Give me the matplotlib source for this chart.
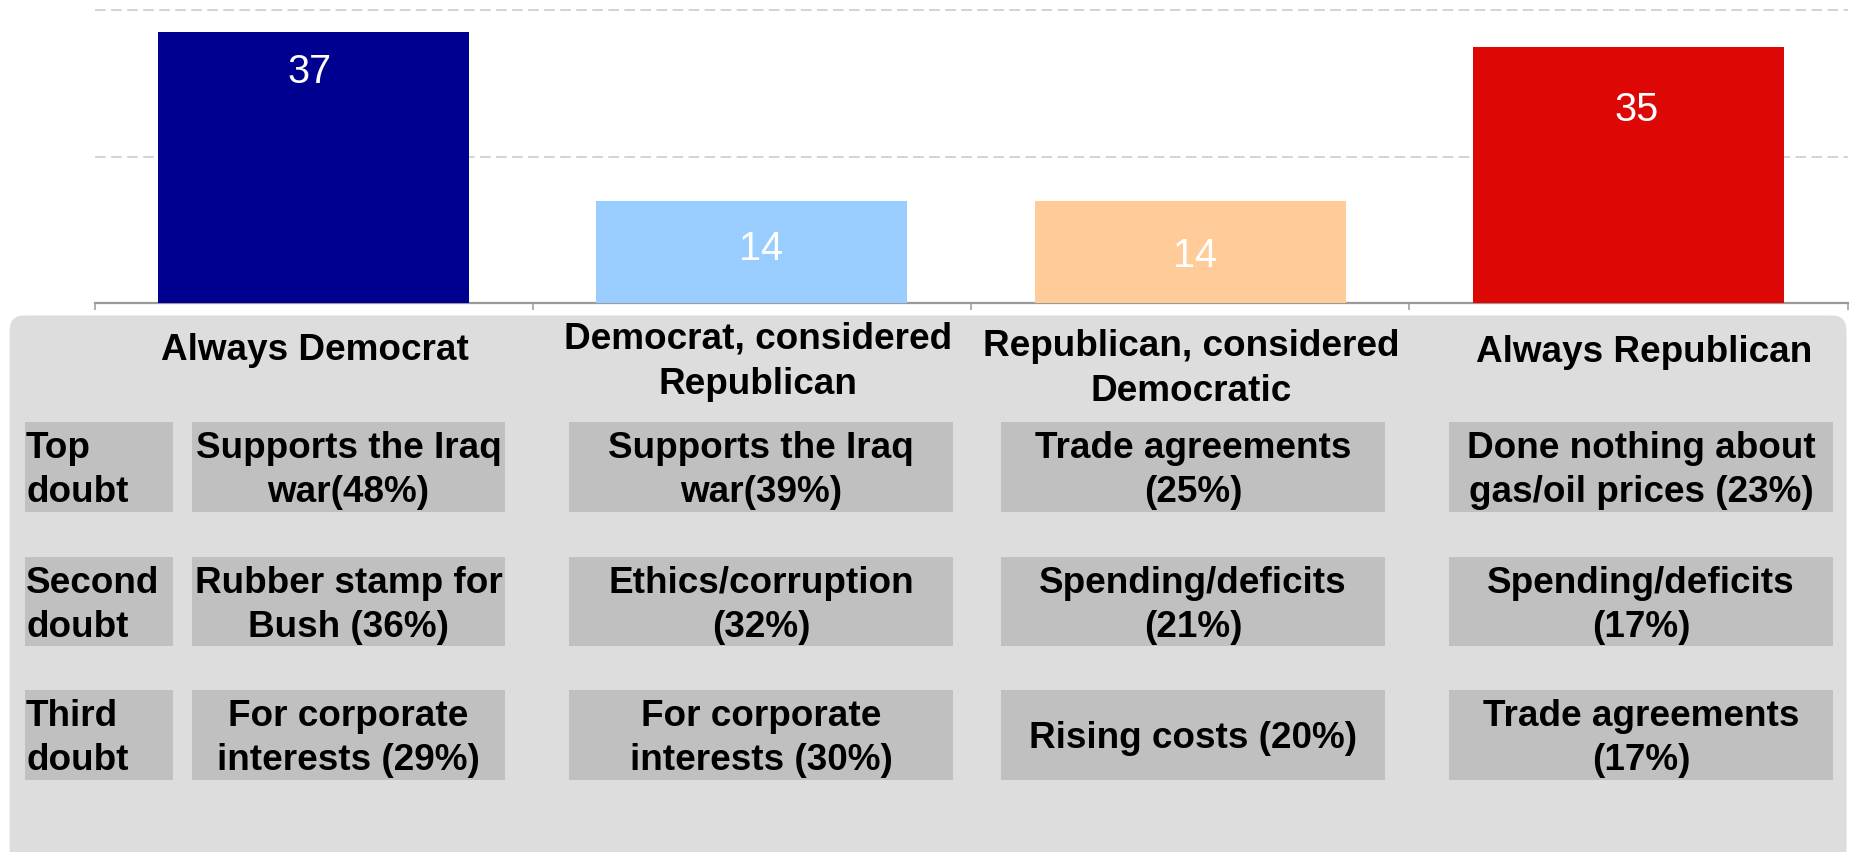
import matplotlib
matplotlib.use("Agg")
import matplotlib.pyplot as plt
from matplotlib.patches import FancyBboxPatch, Rectangle

plt.rcParams['font.family'] = ['Liberation Sans', 'DejaVu Sans']

# ---- data -------------------------------------------------------------
categories = ["Always Democrat",
              "Democrat, considered\nRepublican",
              "Republican, considered\nDemocratic",
              "Always Republican"]
values = [37, 14, 14, 35]

row_labels = ["Top\ndoubt", "Second\ndoubt", "Third\ndoubt"]
top_doubt = ["Supports the Iraq\nwar(48%)",
             "Supports the Iraq\nwar(39%)",
             "Trade agreements\n(25%)",
             "Done nothing about\ngas/oil prices (23%)"]
second_doubt = ["Rubber stamp for\nBush (36%)",
                "Ethics/corruption\n(32%)",
                "Spending/deficits\n(21%)",
                "Spending/deficits\n(17%)"]
third_doubt = ["For corporate\ninterests (29%)",
               "For corporate\ninterests (30%)",
               "Rising costs (20%)",
               "Trade agreements\n(17%)"]

# ---- styling ----------------------------------------------------------
bar_colors = ["#000090", "#99CCFF", "#FFCC99", "#DD0806"]
label_drop = [7.0, 8.1, 9.0, 10.2]        # value label baseline below bar top
label_shift = [-0.01, 0.02, 0.01, 0.018]  # small horizontal nudge of labels
grid_color = "#C8C8C8"
axis_color = "#9A9A9A"
panel_color = "#DDDDDD"
cell_color = "#C0C0C0"
TXT = 26.6

W, H = 1852, 852
fig = plt.figure(figsize=(W / 100, H / 100), dpi=100)

# ---- bar chart --------------------------------------------------------
ax_l, ax_r, ax_base = 94.5, 1847.5, 303.3
ax = fig.add_axes([ax_l / W, 1 - ax_base / H, (ax_r - ax_l) / W, ax_base / H])
x = list(range(len(values)))
ax.bar(x, values, width=0.71, color=bar_colors, zorder=3)
ax.set_xlim(-0.5, len(values) - 0.5)
ax.set_ylim(0, 41.36)

ax.set_yticks([20, 40])
ax.tick_params(axis='y', length=0, labelleft=False)
ax.yaxis.grid(True, color=grid_color, linewidth=1.1, linestyle=(0, (7, 3.5)))
ax.set_axisbelow(True)

ax.set_xticks([i - 0.5 for i in range(len(values) + 1)])
ax.tick_params(axis='x', length=5, width=1.1, color=axis_color,
               direction='out', labelbottom=False)
for s in ('top', 'left', 'right'):
    ax.spines[s].set_visible(False)
ax.spines['bottom'].set_color(axis_color)
ax.spines['bottom'].set_linewidth(1.6)
ax.set_facecolor('none')

for i, (v, d, dx) in enumerate(zip(values, label_drop, label_shift)):
    ax.text(i + dx, v - d, str(v), ha='center', va='baseline',
            color='white', fontsize=28.5, zorder=4)

# ---- doubts panel -----------------------------------------------------
pan = fig.add_axes([0, 0, 1, 1], zorder=-1)
pan.set_xlim(0, W)
pan.set_ylim(H, 0)
pan.axis('off')

r = 15
pan.add_patch(FancyBboxPatch((9.6 + r, 315.5 + r), 1846.5 - 9.6 - 2 * r, 700,
                             boxstyle=f"round,pad={r}", facecolor=panel_color,
                             edgecolor='none'))

header_x = [315, 758, 1191, 1644]
header_y = [347, 358, 365, 349]
col_spans = [(192, 505), (569, 953), (1001, 1385), (1449, 1833)]
label_span = (25, 173)
row_spans = [(422, 512), (557, 646), (690, 780)]


def text_block(xp, yc, text, ha='center', pitch=44, cap=26.4):
    lines = text.split("\n")
    first = yc + cap / 2 - (len(lines) - 1) * pitch / 2
    for k, line in enumerate(lines):
        pan.text(xp, first + k * pitch, line, ha=ha, va='baseline',
                 fontsize=TXT, fontweight='bold', color='black')


for cx, cy, name in zip(header_x, header_y, categories):
    text_block(cx, cy, name, pitch=45)

rows = [top_doubt, second_doubt, third_doubt]
for (y0, y1), lab, items in zip(row_spans, row_labels, rows):
    yc = (y0 + y1) / 2
    pan.add_patch(Rectangle((label_span[0], y0), label_span[1] - label_span[0],
                            y1 - y0, facecolor=cell_color, edgecolor='none'))
    text_block(label_span[0] + 1, yc, lab, ha='left')
    for (x0, x1), item in zip(col_spans, items):
        pan.add_patch(Rectangle((x0, y0), x1 - x0, y1 - y0,
                                facecolor=cell_color, edgecolor='none'))
        text_block((x0 + x1) / 2, yc, item)

fig.savefig("out.png", dpi=100, facecolor='white')
